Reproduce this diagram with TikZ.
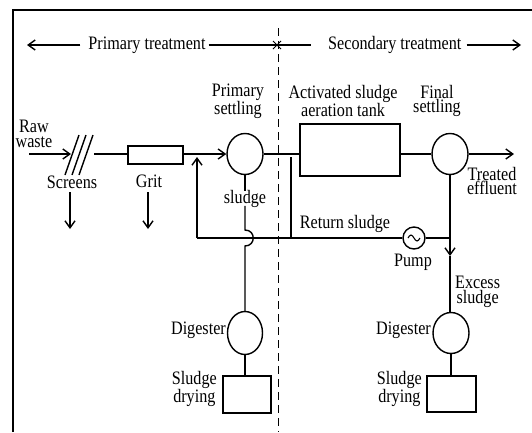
\documentclass[tikz,border=0pt]{standalone}
\usepackage{fontspec}
\setmainfont{Liberation Serif}[FakeStretch=0.85]
\usetikzlibrary{arrows.meta,shapes.geometric}
\begin{document}
\begin{tikzpicture}[x=1pt,y=-1pt,
  every node/.style={font=\fontsize{19}{14.5}\selectfont, inner sep=1pt, align=center},
  ln/.style={line width=1.4pt},
  arr/.style={line width=1.4pt,-{Straight Barb[length=7pt,width=10pt]}},
  vessel/.style={draw,ellipse,line width=1.4pt,minimum width=36pt,minimum height=41pt,inner sep=0pt},
  unit/.style={draw,rectangle,line width=1.4pt,inner sep=0pt},
  divider/.style={line width=1pt,dash pattern=on 8pt off 5pt}]
\fill[white] (0,0) rectangle (532,432);
\useasboundingbox (0,0) rectangle (532,432);
% frame
\draw[line width=2pt] (13,432) -- (13,10) -- (532,10);
% divider
\coordinate (dtop) at (278,28);
\coordinate (dbot) at (278,432);
\draw[divider] (dtop) -- (dbot);
% header
\node (pt) at (147,45) {Primary treatment};
\node[anchor=west] (st) at (327,45) {Secondary treatment};
\coordinate (hl) at (27,45);
\coordinate (hr) at (521,45);
\coordinate (xm) at (277,45);
\coordinate (sl) at (311,45);
\draw[arr] ([xshift=-7pt]pt.west) -- (hl);
\draw[ln] ([xshift=2pt]pt.east) -- (xm) -- (sl);
\draw[arr] ([xshift=4pt]st.east) -- (hr);
\draw[line width=1pt] (273,41) -- (281,49) (273,49) -- (281,41);
% titles
\node (tps) at (238,101) {Primary\\settling};
\node (tat) at (343,101) {Activated sludge\\aeration tank};
\node (tfs) at (437,101) {Final\\settling};
% raw waste and screens
\node (raw) at (34,134) {Raw\\waste};
\coordinate (rawin) at (29,154);
\coordinate (scrin) at (71,154);
\draw[arr] (rawin) -- (scrin);
\draw[ln] (65,175) -- (79,135) (72,175) -- (86,135) (79,175) -- (93,135);
\coordinate (scrout) at (94,154);
\node (scr) at (72,182) {Screens};
\coordinate (scrd1) at (70,192);
\coordinate (scrd2) at (70,229);
\draw[arr] (scrd1) -- (scrd2);
% grit
\node[unit,minimum width=55pt,minimum height=18pt] (grit) at (155.5,155) {};
\draw[ln] (scrout) -- (scrout -| grit.west);
\node (gritl) at (149,181) {Grit};
\coordinate (gd1) at (148,192);
\coordinate (gd2) at (148,229);
\draw[arr] (gd1) -- (gd2);
% primary settling
\node[vessel] (ps) at (245,154) {};
\draw[arr] (grit.east |- ps.west) -- (ps.west);
% aeration tank
\node[unit,minimum width=100pt,minimum height=52pt] (tank) at (350,150) {};
\draw[ln] (ps.east) -- (ps.east -| tank.west);
% final settling
\node[vessel] (fs) at (450,154) {};
\draw[ln] (fs.west -| tank.east) -- (fs.west);
\coordinate (eff) at (514,154);
\draw[arr] (fs.east) -- (eff);
\node (effl) at (492,181) {Treated\\effluent};
% return sludge
\coordinate (rj) at (450,238);
\coordinate (rl) at (197,238);
\coordinate (rup) at (197,157);
\node[draw,circle,line width=1.4pt,minimum size=22pt,inner sep=0pt] (pump) at (414,238) {};
\draw[line width=1.1pt] ([xshift=-6pt]pump.center) sin ++(3,-3) cos ++(3,3) sin ++(3,3) cos ++(3,-3);
\draw[ln] (rj) -- (pump.east);
\draw[ln] (pump.west) -- (rl);
\draw[arr] (rl) -- (rup);
\coordinate (tb1) at (291,157);
\coordinate (tb2) at (291,238);
\draw[ln] (tb1) -- (tb2);
\node (rsl) at (345,224) {Return sludge};
\node (pumpl) at (413,262) {Pump};
% primary sludge line
\node (sludge) at (245,199) {sludge};
\node[vessel,minimum width=35pt,minimum height=43pt] (dig1) at (245,333) {};
\coordinate (h1) at (245,230);
\coordinate (h2) at (245,246);
\draw[ln] (ps.south) -- ([yshift=-2pt]sludge.north);
\draw[ln] ([yshift=3pt]sludge.south) -- (h1) .. controls (256,230) and (256,246) .. (h2) -- (dig1.north);
\node[anchor=east] (dg1l) at (227,330) {Digester};
\node[unit,minimum width=48pt,minimum height=37pt] (box1) at (247,394.5) {};
\draw[ln] (dig1.south) -- (dig1.south |- box1.north);
\node[anchor=east] (sd1) at (218,389) {Sludge\\drying};
% excess sludge line
\node[vessel] (dig2) at (451,333) {};
\coordinate (ea) at (450,256);
\draw[arr] (fs.south) -- (ea);
\draw[ln] (ea) -- (dig2.north -| ea);
\node[anchor=west] (exl) at (454,292) {Excess\\sludge};
\node[anchor=east] (dg2l) at (432,330) {Digester};
\node[unit,minimum width=49pt,minimum height=36pt] (box2) at (451.5,394) {};
\draw[ln] (dig2.south) -- (dig2.south |- box2.north);
\node[anchor=east] (sd2) at (423,389) {Sludge\\drying};
\end{tikzpicture}
\end{document}
